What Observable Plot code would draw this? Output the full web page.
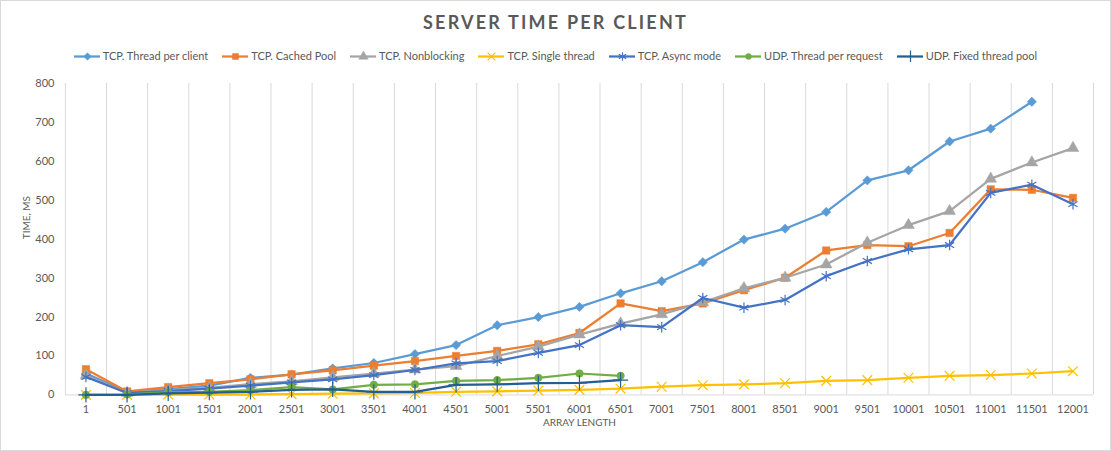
<!DOCTYPE html>
<html>
<head>
<meta charset="utf-8">
<script src="https://cdn.jsdelivr.net/npm/d3@7"></script>
<script src="https://cdn.jsdelivr.net/npm/@observablehq/plot@0.6"></script>
<style>
  html, body { margin: 0; padding: 0; background: #fff; }
  #chart { position: relative; width: 1109px; height: 449px; border: 1px solid #d9d9d9; overflow: hidden; font-family: Lato, "Open Sans", sans-serif; color: #595959; }
  #title { position: absolute; left: 0; right: 0; top: 10px; text-align: center; font-size: 18px; font-weight: bold; letter-spacing: 2.2px; color: #595959; }
  #legend { position: absolute; left: 0; right: 0; top: 48px; display: flex; justify-content: center; gap: 14px; font-size: 11px; color: #595959; }
  .item { display: flex; align-items: center; gap: 3px; white-space: nowrap; }
  .item svg { display: block; }
  #plot { position: absolute; left: 0; top: 70px; }
</style>
</head>
<body>
<div id="chart">
  <div id="title">SERVER TIME PER CLIENT</div>
  <div id="legend"></div>
  <div id="plot"></div>
</div>
<script>
const lengths = [1,501,1001,1501,2001,2501,3001,3501,4001,4501,5001,5501,6001,6501,7001,7501,8001,8501,9001,9501,10001,10501,11001,11501,12001];
const tcpThreadPerClient = [55,8,15,24,44,52,68,82,105,128,179,200,226,261,292,341,399,427,470,551,577,651,684,753];
const tcpCachedPool = [66,9,20,30,40,53,63,75,87,100,113,130,159,235,215,235,269,301,371,385,382,416,528,527,506];
const tcpNonblocking = [50,5,12,18,28,35,45,55,65,74,100,124,155,183,207,238,274,301,335,391,436,472,555,597,634];
const tcpSingleThread = [0,0,1,1,1,2,3,4,5,8,9,11,13,16,21,25,27,30,36,38,44,49,51,55,61];
const tcpAsyncMode = [46,5,10,16,24,32,40,51,64,81,87,108,128,179,174,249,224,244,305,344,374,385,519,540,490];
const udpThreadPerRequest = [0,1,7,8,12,20,14,26,27,36,38,44,55,49];
const udpFixedThreadPool = [0,0,4,6,8,13,14,8,8,26,27,30,31,38];
const yTicks = [0,100,200,300,400,500,600,700,800];

const series = [
  {name: "TCP. Thread per client", values: tcpThreadPerClient, color: "#5B9BD5", symbol: "diamond2", filled: true, r: 4.2},
  {name: "TCP. Cached Pool", values: tcpCachedPool, color: "#ED7D31", symbol: "square", filled: true, r: 4.2},
  {name: "TCP. Nonblocking", values: tcpNonblocking, color: "#A5A5A5", symbol: "triangle", filled: true, r: 4.4},
  {name: "TCP. Single thread", values: tcpSingleThread, color: "#FFC000", symbol: "times", filled: false, r: 4.5},
  {name: "TCP. Async mode", values: tcpAsyncMode, color: "#4472C4", symbol: "asterisk", filled: false, r: 5},
  {name: "UDP. Thread per request", values: udpThreadPerRequest, color: "#70AD47", symbol: "circle", filled: true, r: 3.8},
  {name: "UDP. Fixed thread pool", values: udpFixedThreadPool, color: "#255E91", symbol: "plus", filled: false, r: 5}
];

const step = lengths[1] - lengths[0];
const gridX = [lengths[0] - step / 2, ...lengths.map(d => d + step / 2)];

const marks = [
  Plot.ruleX(gridX, {stroke: "#d9d9d9", strokeWidth: 1}),
  Plot.ruleY([0], {stroke: "#d9d9d9", strokeWidth: 1}),
  Plot.text(yTicks, {y: d => d, text: d => String(d), frameAnchor: "left", dx: -11, textAnchor: "end", fill: "#595959", fontSize: 11}),
  Plot.text(lengths, {x: d => d, y: 0, text: d => String(d), dy: 15, fill: "#595959", fontSize: 11, style: "letter-spacing:1.3px"}),
  Plot.text(["TIME, MS"], {frameAnchor: "left", dx: -39, rotate: -90, fill: "#595959", fontSize: 10}),
  Plot.text(["ARRAY LENGTH"], {frameAnchor: "bottom", dy: 31, fill: "#595959", fontSize: 10})
];

for (const s of series) {
  const rows = s.values.map((v, i) => ({x: lengths[i], y: v}));
  marks.push(Plot.line(rows, {x: "x", y: "y", stroke: s.color, strokeWidth: 2.25}));
  marks.push(Plot.dot(rows, {
    x: "x", y: "y", symbol: () => s.symbol, r: s.r,
    fill: s.filled ? s.color : "none",
    stroke: s.color, strokeWidth: s.filled ? 0.5 : 1.2
  }));
}

const chart = Plot.plot({
  width: 1111,
  height: 370,
  marginTop: 12,
  marginBottom: 46,
  marginLeft: 64,
  marginRight: 17,
  style: {fontFamily: "Lato, 'Open Sans', sans-serif", background: "transparent"},
  x: {type: "linear", domain: [lengths[0] - step / 2, lengths[lengths.length - 1] + step / 2], axis: null},
  y: {domain: [0, 800], axis: null},
  symbol: {type: "identity"},
  marks
});
document.getElementById("plot").appendChild(chart);

// Legend
const legend = document.getElementById("legend");
for (const s of series) {
  const item = document.createElement("div");
  item.className = "item";
  const sw = Plot.plot({
    width: 26, height: 12, margin: 0,
    x: {domain: [0, 1], axis: null}, y: {domain: [0, 1], axis: null},
    symbol: {type: "identity"},
    marks: [
      Plot.ruleY([0.5], {x1: 0, x2: 1, stroke: s.color, strokeWidth: 2.25}),
      Plot.dot([0.5], {x: d => d, y: 0.5, symbol: () => s.symbol, r: s.r * 0.8,
        fill: s.filled ? s.color : "none", stroke: s.color, strokeWidth: s.filled ? 0.5 : 1.2})
    ]
  });
  item.appendChild(sw);
  const t = document.createElement("span");
  t.textContent = s.name;
  item.appendChild(t);
  legend.appendChild(item);
}
</script>
</body>
</html>
